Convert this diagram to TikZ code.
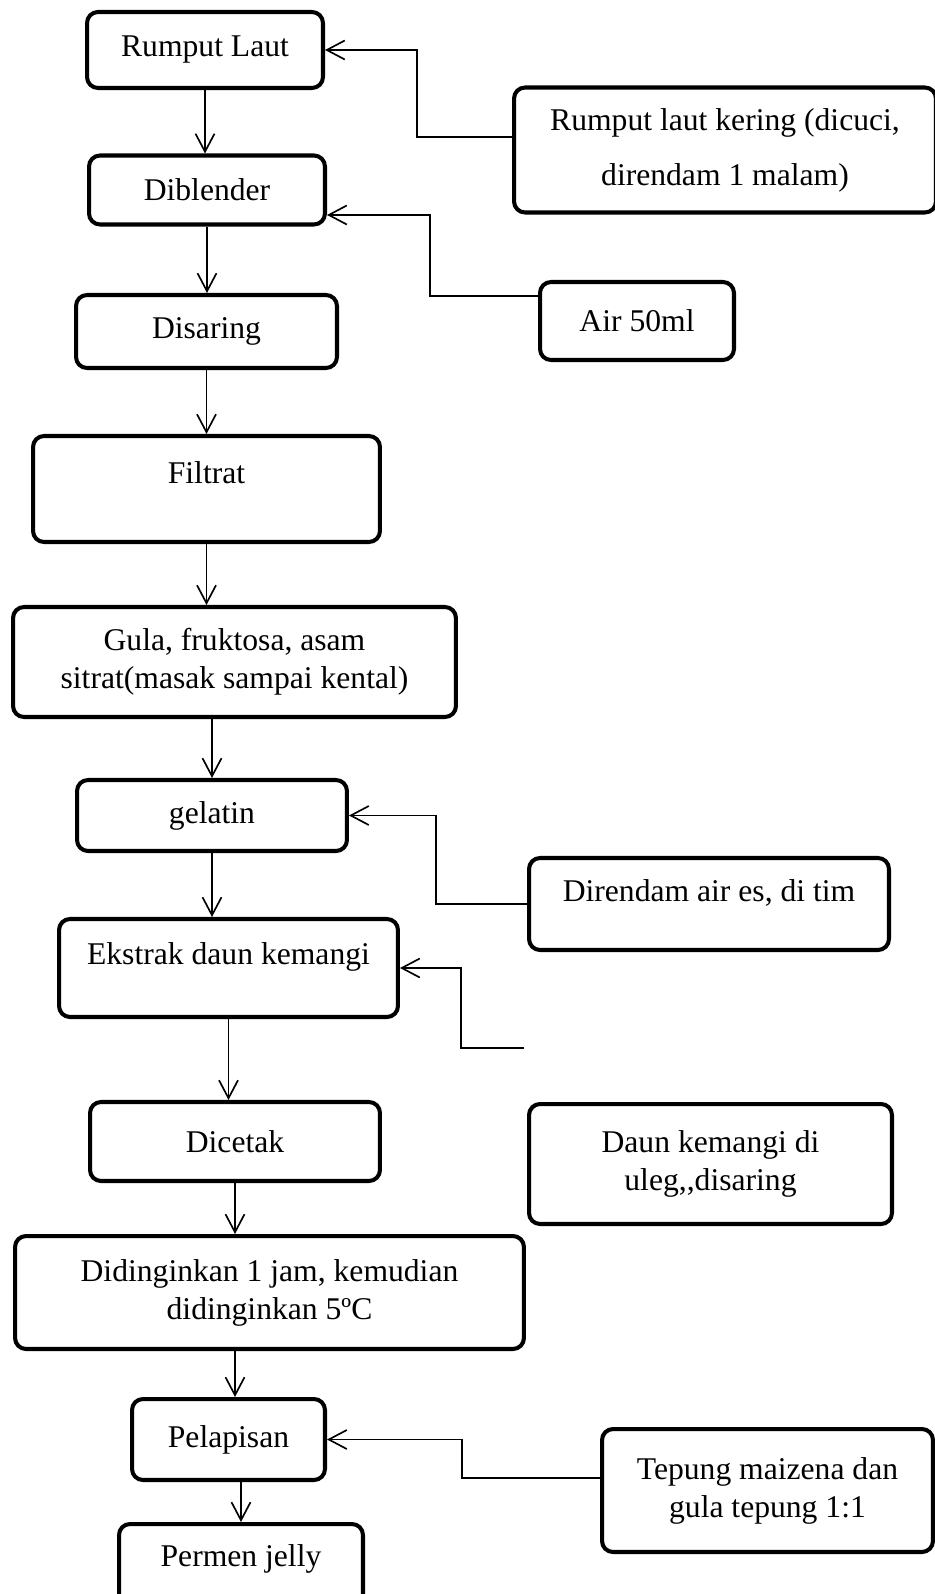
\documentclass[tikz,border=0pt]{standalone}
\usepackage{fontspec}
\setmainfont{Liberation Serif}
\usetikzlibrary{arrows.meta}

\begin{document}
\begin{tikzpicture}[x=0.02cm, y=-0.02cm,
    box/.style={draw, line width=2.3pt, rounded corners=0.22cm, align=center, inner sep=0pt,
                font=\fontsize{18pt}{21.6pt}\selectfont},
    txt/.style={align=center, inner sep=0pt, font=\fontsize{18pt}{21.6pt}\selectfont},
    arr/.style={line width=0.95pt, -{Straight Barb[length=0.36cm, width=0.38cm]}}]
    \useasboundingbox (0,0) rectangle (934,1594);

    % alur utama (kolom kiri)
    \node[box, minimum width=4.72cm, minimum height=1.52cm] (laut) at (205,50) {Rumput Laut};
    \node[box, minimum width=4.72cm, minimum height=1.38cm] (blender) at (207,190) {Diblender};
    \node[box, minimum width=5.22cm, minimum height=1.46cm] (saring) at (206.5,331.5) {Disaring};
    \node[box, minimum width=6.94cm, minimum height=2.12cm] (filtrat) at (206.5,489) {};
    \node[txt] (filtrat text) at (206.5,473) {Filtrat};
    \node[box, minimum width=8.86cm, minimum height=2.2cm] (gula) at (234.5,662)
        {Gula, fruktosa, asam\\sitrat(masak sampai kental)};
    \node[box, minimum width=5.4cm, minimum height=1.42cm] (gelatin) at (212,815.5) {gelatin};
    \node[box, minimum width=6.78cm, minimum height=1.96cm] (ekstrak) at (228.5,968) {};
    \node[txt] (ekstrak text) at (228.5,957) {Ekstrak daun kemangi};
    \node[box, minimum width=5.8cm, minimum height=1.58cm] (cetak) at (235,1141.5) {Dicetak};
    \node[box, minimum width=10.18cm, minimum height=2.26cm] (dingin) at (269.5,1292.5)
        {Didinginkan 1 jam, kemudian\\didinginkan 5ºC};
    \node[box, minimum width=3.86cm, minimum height=1.62cm] (lapis) at (228.5,1439.5) {Pelapisan};
    \node[box, minimum width=4.88cm, minimum height=1.8cm] (permen) at (241,1569) {};
    \node[txt] (permen text) at (241,1559) {Permen jelly};

    % bahan tambahan (kolom kanan)
    \node[box, minimum width=8.44cm, minimum height=2.5cm] (kering) at (725,150)
        {Rumput laut kering (dicuci,\\[9.7pt]direndam 1 malam)};
    \node[box, minimum width=3.88cm, minimum height=1.56cm] (air) at (637,321) {Air 50ml};
    \node[box, minimum width=7.2cm, minimum height=1.84cm] (es) at (709,904) {};
    \node[txt] (es text) at (709,893) {Direndam air es, di tim};
    \node[box, minimum width=7.26cm, minimum height=2.4cm] (kemangi) at (710.5,1164)
        {Daun kemangi di\\uleg,\kern0pt,disaring};
    \node[box, minimum width=6.62cm, minimum height=2.46cm] (tepung) at (767.5,1490.5)
        {Tepung maizena dan\\gula tepung 1:1};
    \coordinate (kemangi in) at (524,1048);

    % panah ke bawah
    \draw[arr] (laut.south) -- (laut.south |- blender.north);
    \draw[arr] (blender.south) -- (blender.south |- saring.north);
    \draw[arr] (saring.south) -- (saring.south |- filtrat.north);
    \draw[arr] (filtrat.south) -- (filtrat.south |- gula.north);
    \draw[arr] (gelatin.north |- gula.south) -- (gelatin.north);
    \draw[arr] (gelatin.south) -- (gelatin.south |- ekstrak.north);
    \draw[arr] (ekstrak.south) -- (ekstrak.south |- cetak.north);
    \draw[arr] (cetak.south) -- (cetak.south |- dingin.north);
    \draw[arr] (dingin.south -| cetak) -- (lapis.north -| cetak);
    \draw[arr] (lapis.south -| permen) -- (permen.north);

    % panah masuk dari samping
    \draw[arr] ([yshift=0.26cm]kering.west) -- ++(-95,0) |- (laut.east);
    \draw[arr] ([yshift=0.5cm]air.west) -- ++(-108,0) |- ([yshift=-0.5cm]blender.east);
    \draw[arr] (es.west) -- ++(-91,0) |- (gelatin.east);
    \draw[arr] (kemangi in) -- ++(-63,0) |- (ekstrak.east);
    \draw[arr] ([yshift=0.25cm]tepung.west) -- ++(-138,0) |- (lapis.east);
\end{tikzpicture}
\end{document}
